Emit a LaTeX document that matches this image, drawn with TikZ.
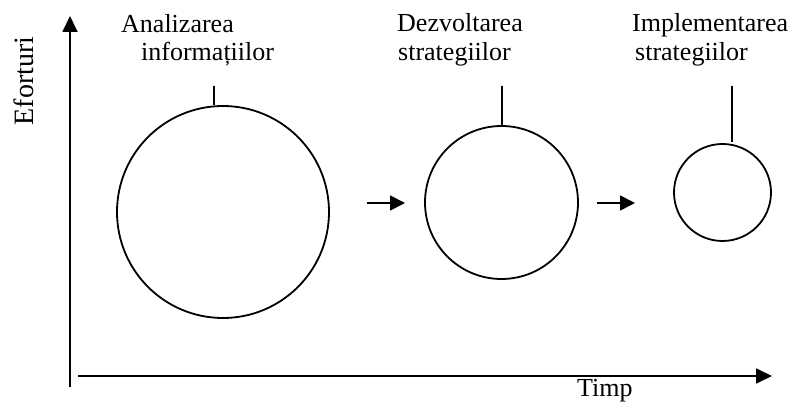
\documentclass[tikz,border=0pt]{standalone}
\usepackage{fontspec}
\setmainfont{Liberation Serif}
\usetikzlibrary{arrows.meta}
\begin{document}
\begin{tikzpicture}[x=1pt,y=-1pt,
  lbl/.style={inner sep=0pt,anchor=base west,font=\fontsize{26}{30}\selectfont},
  stage/.style={circle,draw,line width=1.8pt,inner sep=0pt},
  axis/.style={line width=1.8pt,-{Triangle[length=16pt,width=15pt]}},
  flow/.style={line width=1.8pt,-{Triangle[length=15pt,width=15pt]}},
  tick/.style={line width=1.8pt}]
\useasboundingbox (0,0) rectangle (793,403);

% axes
\coordinate (ybot) at (70,387);
\coordinate (ytop) at (70,16);
\coordinate (xl) at (78,376);
\coordinate (xr) at (772,376);
\draw[axis] (ybot) -- (ytop);
\draw[axis] (xl) -- (xr);
\node[lbl,anchor=base,rotate=90,font=\fontsize{28}{32}\selectfont] (ef) at (33,81) {Eforturi};
\node[lbl] (timp) at (577,397) {Timp};

% stages
\node[stage,minimum size=212pt] (c1) at (223,212) {};
\node[stage,minimum size=153pt] (c2) at (501.5,202.5) {};
\node[stage,minimum size=97pt] (c3) at (722.5,192.5) {};

% labels of the stages
\node[lbl] (l1a) at (121,33) {Analizarea};
\node[lbl] (l1b) at (141,61) {informațiilor};
\node[lbl] (l2a) at (397,32) {Dezvoltarea};
\node[lbl] (l2b) at (398,61) {strategiilor};
\node[lbl] (l3a) at (632,32) {Implementarea};
\node[lbl] (l3b) at (635,61) {strategiilor};

% leader ticks
\coordinate (t1) at (214,86);
\coordinate (t2) at (502,86);
\coordinate (t3) at (732,86);
\draw[tick] (t1) -- (t1 |- c1.north);
\draw[tick] (t2) -- (t2 |- c2.north);
\draw[tick] (t3) -- ([yshift=1pt]t3 |- c3.north);

% flow arrows
\coordinate (a1s) at (367,203);
\coordinate (a1e) at (405,203);
\coordinate (a2s) at (597,203);
\coordinate (a2e) at (635,203);
\draw[flow] (a1s) -- (a1e);
\draw[flow] (a2s) -- (a2e);
\end{tikzpicture}
\end{document}
